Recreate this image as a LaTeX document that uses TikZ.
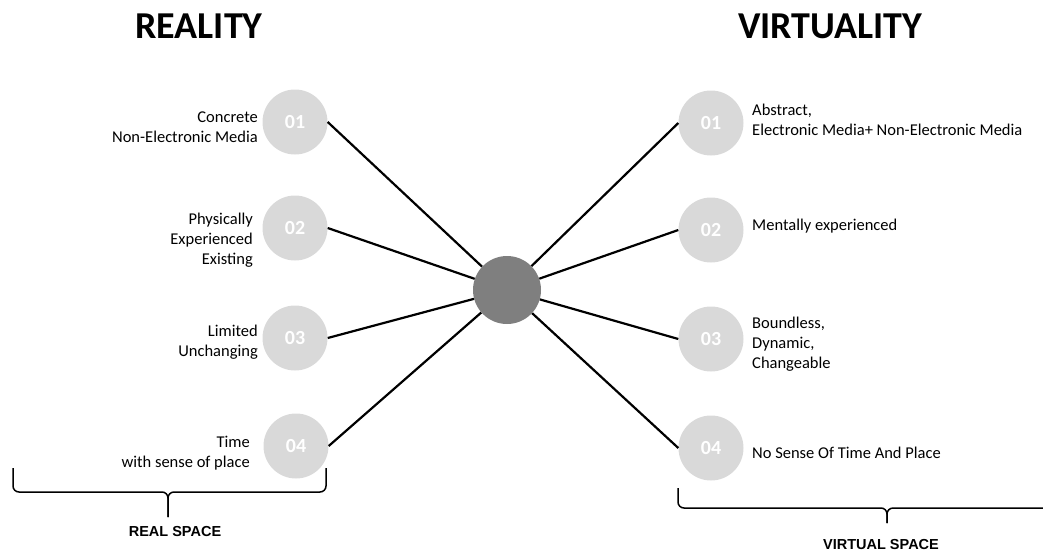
\documentclass[tikz,border=0pt]{standalone}
\usepackage{fontspec}
\setmainfont{Carlito}
\newfontfamily\arialf{Liberation Sans}
\definecolor{numgray}{HTML}{D9D9D9}
\definecolor{hubgray}{HTML}{7F7F7F}
\newcommand\rlab[1]{\begin{tabular}[t]{@{}r@{}}#1\end{tabular}}
\newcommand\llab[1]{\begin{tabular}[t]{@{}l@{}}#1\end{tabular}}
\begin{document}
\begin{tikzpicture}[x=1pt,y=-1pt,
  num/.style={circle,fill=numgray,minimum size=65pt,inner sep=0pt,text=white,font=\bfseries\fontsize{20}{20}\selectfont},
  hub/.style={circle,fill=hubgray,minimum size=68pt,inner sep=0pt},
  link/.style={line width=2.2pt,black},
  lab/.style={inner sep=0pt,font=\fontsize{16.5}{20}\selectfont},
  ttl/.style={anchor=base,inner sep=0pt,font=\bfseries\fontsize{38}{40}\selectfont},
  brace/.style={line width=1.5pt,rounded corners=6pt},
  spacelab/.style={anchor=base,inner sep=0pt,font=\arialf\bfseries\fontsize{14.5}{15}\selectfont}]
\useasboundingbox (0,0) rectangle (1043,552);

% titles
\node[ttl] (treal) at (199,38) {REALITY};
\node[ttl] (tvirt) at (830,38) {VIRTUALITY};

% hub
\node[hub] (c) at (507,290) {};

% left circles
\node[num] (l1) at (295,122) {01};
\node[num] (l2) at (295,228) {02};
\node[num] (l3) at (295,338) {03};
\node[num] (l4) at (296,446) {04};

% right circles
\node[num] (r1) at (711,123) {01};
\node[num] (r2) at (711,230) {02};
\node[num] (r3) at (711,339) {03};
\node[num] (r4) at (711,448) {04};

% connectors
\draw[link] (l1.east) -- (c);
\draw[link] (l2.east) -- (c);
\draw[link] (l3.east) -- (c);
\draw[link] (l4.east) -- (c);
\draw[link] (r1.west) -- (c);
\draw[link] (r2.west) -- (c);
\draw[link] (r3.west) -- (c);
\draw[link] (r4.west) -- (c);

% left labels
\node[lab,anchor=base east] (tl1) at (258,122) {\rlab{Concrete\\Non-Electronic Media}};
\node[lab,anchor=base east] (tl2) at (253,224) {\rlab{Physically\\Experienced\\Existing}};
\node[lab,anchor=base east] (tl3) at (258,336) {\rlab{Limited\\Unchanging}};
\node[lab,anchor=base east] (tl4) at (250,447) {\rlab{Time\\with sense of place}};

% right labels
\node[lab,anchor=base west] (tr1) at (752,115) {\llab{Abstract,\\Electronic Media+ Non-Electronic Media}};
\node[lab,anchor=base west] (tr2) at (752,230) {Mentally experienced};
\node[lab,anchor=base west] (tr3) at (752,328) {\llab{Boundless,\\Dynamic,\\Changeable}};
\node[lab,anchor=base west] (tr4) at (752,458) {No Sense Of Time And Place};

% braces
\draw[brace] (13,468) -- (13,492) -- (168,492) -- (168,517);
\draw[brace] (326,468) -- (326,492) -- (168,492) -- (168,517);
\draw[brace] (678,488) -- (678,508) -- (887,508) -- (887,523);
\draw[brace] (1043,508) -- (887,508) -- (887,523);

\node[spacelab] (sreal) at (175,536) {REAL SPACE};
\node[spacelab] (svirt) at (881,549) {VIRTUAL SPACE};
\end{tikzpicture}
\end{document}
